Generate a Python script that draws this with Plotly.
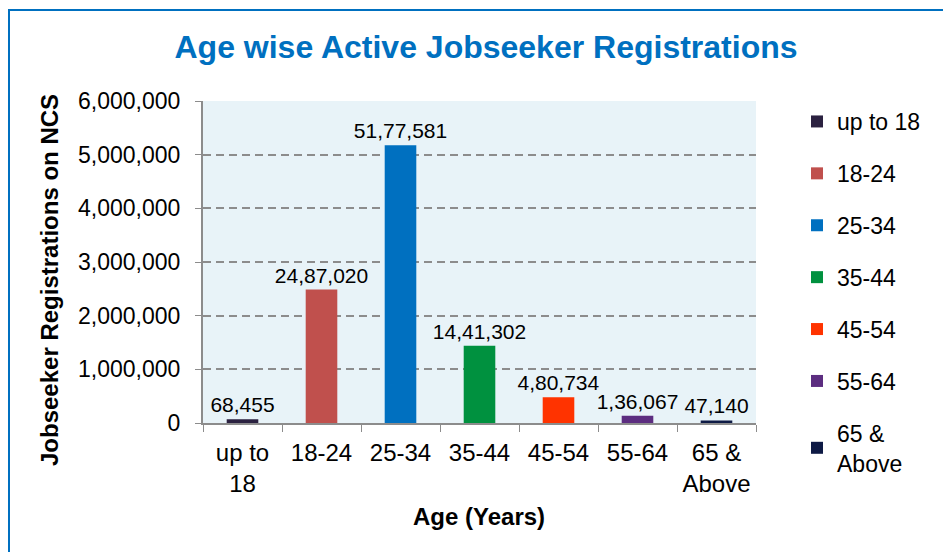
import plotly.graph_objects as go

# Age groups and active registrations
age_groups = ["up to 18", "18-24", "25-34", "35-44", "45-54", "55-64", "65 & Above"]
tick_labels = ["up to<br>18", "18-24", "25-34", "35-44", "45-54", "55-64", "65 &<br>Above"]
legend_labels = ["up to 18", "18-24", "25-34", "35-44", "45-54", "55-64", "65 &<br>Above"]
registrations = [68455, 2487020, 5177581, 1441302, 480734, 136067, 47140]
bar_colors = ["#2b2140", "#c0504d", "#0070c0", "#00913f", "#ff3300", "#5c2d80", "#0e1a45"]
y_ticks = [0, 1000000, 2000000, 3000000, 4000000, 5000000, 6000000]

FONT = "Arial, Liberation Sans, sans-serif"

# the page body has an 8px margin, so the figure is 943 x 544 and sits at (8, 8)
OFF = 8
FW, FH = 951 - OFF, 552 - OFF
# plot area in page pixels
L, R, T, B = 203, 756, 101, 423
W, H = R - L, B - T


def px(x):
    return (x - L) / W


def py(y):
    return (B - y) / H


def indian(n):
    s = str(int(n))
    if len(s) <= 3:
        return s
    head, tail = s[:-3], s[-3:]
    parts = []
    while len(head) > 2:
        parts.insert(0, head[-2:])
        head = head[:-2]
    if head:
        parts.insert(0, head)
    return ",".join(parts + [tail])


fig = go.Figure()
for i, (cat, val, col) in enumerate(zip(age_groups, registrations, bar_colors)):
    fig.add_trace(go.Bar(
        x=[cat], y=[val],
        name=legend_labels[i],
        legendgroup=cat,
        marker=dict(color=col, line=dict(width=0)),
        width=0.4,
        text=[indian(val)],
        textposition="outside",
        constraintext="none",
        textfont=dict(size=21, color="#000000", family=FONT),
        cliponaxis=False,
    ))

fig.update_layout(
    width=FW, height=FH,
    margin=dict(l=L - OFF, r=FW - (R - OFF), t=T - OFF, b=FH - (B - OFF)),
    paper_bgcolor="#ffffff",
    plot_bgcolor="#e8f3f8",
    barmode="overlay",
    font=dict(family=FONT, size=23, color="#000000"),
    title=dict(text="<b>Age wise Active Jobseeker Registrations</b>",
               x=(486 - OFF) / FW, xanchor="center", y=1 - (47 - OFF) / FH, yanchor="middle",
               font=dict(size=32, color="#0070c0", family=FONT)),
    showlegend=True,
    legend=dict(x=px(797), xanchor="left", y=py(100), yanchor="top",
                font=dict(size=23, color="#000000", family=FONT),
                tracegroupgap=19, itemwidth=30, maxheight=900,
                bgcolor="rgba(0,0,0,0)"),
    xaxis=dict(
        categoryorder="array", categoryarray=age_groups,
        tickvals=age_groups, ticktext=tick_labels,
        tickson="boundaries", ticks="outside", ticklen=7, tickcolor="#8c8c8c",
        tickfont=dict(size=24, color="#000000"), ticklabelstandoff=7,
        showline=True, linecolor="#8c8c8c", linewidth=2,
        showgrid=False, zeroline=False,
    ),
    yaxis=dict(
        range=[0, 6000000], tickvals=y_ticks, tickformat=",d",
        ticks="outside", ticklen=6, tickcolor="#8c8c8c",
        tickfont=dict(size=23, color="#000000"), ticklabelstandoff=10,
        showline=True, linecolor="#8c8c8c", linewidth=2,
        showgrid=True, gridcolor="#8c8c8c", gridwidth=2, griddash="8px,5px",
        zeroline=False,
    ),
    annotations=[
        dict(text="<b>Age (Years)</b>", x=px(479), y=py(516), xref="paper", yref="paper",
             xanchor="center", yanchor="middle", showarrow=False,
             font=dict(size=24, color="#000000")),
        dict(text="<b>Jobseeker Registrations on NCS</b>", x=px(49), y=py(280),
             xref="paper", yref="paper", textangle=-90,
             xanchor="center", yanchor="middle", showarrow=False,
             font=dict(size=24, color="#000000")),
    ],
    shapes=[
        dict(type="rect", xref="paper", yref="paper",
             x0=px(OFF + 1), x1=px(950), y0=py(570), y1=py(10),
             line=dict(color="#0070c0", width=2), fillcolor="rgba(0,0,0,0)",
             layer="below"),
    ],
)

fig.write_html("out.html")
